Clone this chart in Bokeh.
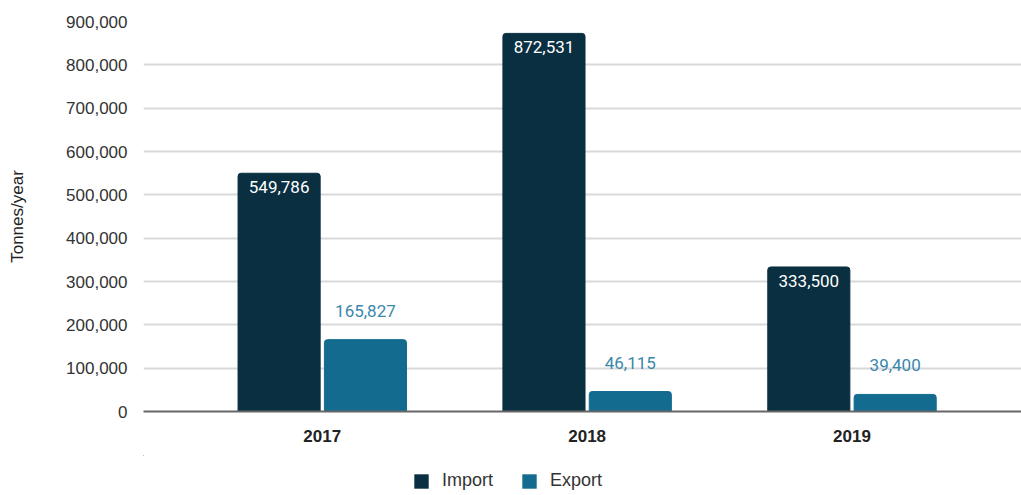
from bokeh.plotting import figure
from bokeh.layouts import column
from bokeh.models import ColumnDataSource, Range1d, FixedTicker, NumeralTickFormatter, Legend, LegendItem
from bokeh.transform import dodge
from bokeh.core.properties import value
from bokeh.embed import file_html
from bokeh.resources import INLINE

years = ["2017", "2018", "2019"]
series = ["Import", "Export"]
imports = [549786, 872531, 333500]
exports = [165827, 46115, 39400]
y_ticks = [0, 100000, 200000, 300000, 400000, 500000, 600000, 700000, 800000, 900000]

IMP_C = "#0a2f41"
EXP_C = "#136b90"
EXP_TXT = "#3a87ab"

idx = list(range(len(years)))
src = ColumnDataSource(dict(
    x=idx,
    imp=imports,
    exp=exports,
    imp_lbl=[f"{v:,}" for v in imports],
    exp_lbl=[f"{v:,}" for v in exports],
))

p = figure(width=1021, height=455, output_backend="svg", toolbar_location=None,
           x_range=Range1d(-0.675, 2.64), y_range=Range1d(0, 900000),
           min_border_left=143, min_border_right=0, min_border_top=21, min_border_bottom=44)
p.outline_line_color = None
p.background_fill_color = "white"
p.border_fill_color = "white"

bw = 0.31
off = 0.163
p.vbar(x=dodge("x", -off), top="imp", width=bw, source=src, color=IMP_C,
       border_radius=(3, 3, 0, 0))
p.vbar(x=dodge("x", off), top="exp", width=bw, source=src, color=EXP_C,
       border_radius=(3, 3, 0, 0))

p.text(x=dodge("x", -off), y="imp", text="imp_lbl", source=src, text_color="white",
       text_align="center", text_baseline="middle", y_offset=14,
       text_font=value("Roboto"), text_font_size="17px")
p.text(x=dodge("x", off), y="exp", text="exp_lbl", source=src, text_color=EXP_TXT,
       text_align="center", text_baseline="middle", y_offset=-29,
       text_font=value("Roboto"), text_font_size="17px")

# axes
p.xaxis.ticker = FixedTicker(ticks=idx)
p.xaxis.major_label_overrides = {i: y for i, y in zip(idx, years)}
p.xaxis.major_label_text_font = "Liberation Sans"
p.xaxis.major_label_text_font_style = "bold"
p.xaxis.major_label_text_font_size = "17px"
p.xaxis.major_label_text_color = "#222222"
p.xaxis.major_label_standoff = 12
p.xaxis.major_tick_line_color = None
p.xaxis.minor_tick_line_color = None
p.xaxis.axis_line_color = "#666666"
p.xaxis.axis_line_width = 2

p.yaxis.ticker = FixedTicker(ticks=y_ticks)
p.yaxis.formatter = NumeralTickFormatter(format="0,0")
p.yaxis.major_label_text_font = "Liberation Sans"
p.yaxis.major_label_text_font_size = "17px"
p.yaxis.major_label_text_color = "#333333"
p.yaxis.major_label_standoff = 10
p.yaxis.major_tick_line_color = None
p.yaxis.minor_tick_line_color = None
p.yaxis.axis_line_color = None
p.yaxis.axis_label = "Tonnes/year"
p.yaxis.axis_label_text_font = "Liberation Sans"
p.yaxis.axis_label_text_font_style = "normal"
p.yaxis.axis_label_text_font_size = "17px"
p.yaxis.axis_label_text_color = "#222222"
p.yaxis.axis_label_standoff = 36

p.xgrid.grid_line_color = None
p.ygrid.grid_line_color = "#d9d9d9"
p.ygrid.grid_line_width = 2

# legend strip below the chart (its key glyphs share the chart's data source,
# but the strip's ranges keep the bars themselves out of view)
lg = figure(width=1021, height=40, output_backend="svg", toolbar_location=None,
            x_range=Range1d(100, 101), y_range=Range1d(-3e6, -2e6),
            min_border_left=0, min_border_right=0, min_border_top=0, min_border_bottom=0,
            x_axis_location=None, y_axis_location=None)
lg.outline_line_color = None
lg.xgrid.visible = False
lg.ygrid.visible = False
lr_imp = lg.vbar(x="x", top="imp", width=bw, source=src, fill_color=IMP_C, line_color=None)
lr_exp = lg.vbar(x="x", top="exp", width=bw, source=src, fill_color=EXP_C, line_color=None)

legend = Legend(items=[LegendItem(label=series[0], renderers=[lr_imp]),
                       LegendItem(label=series[1], renderers=[lr_exp])],
                orientation="horizontal", location=(269, 4),
                glyph_width=18, glyph_height=18, label_height=18,
                label_standoff=12, spacing=27, padding=0, margin=0,
                border_line_color=None, background_fill_alpha=0,
                label_text_font="Liberation Sans", label_text_font_size="18px",
                label_text_color="#333333")
lg.add_layout(legend, "center")

layout = column(p, lg, spacing=0)
open("out.html", "w").write(file_html(layout, INLINE))
